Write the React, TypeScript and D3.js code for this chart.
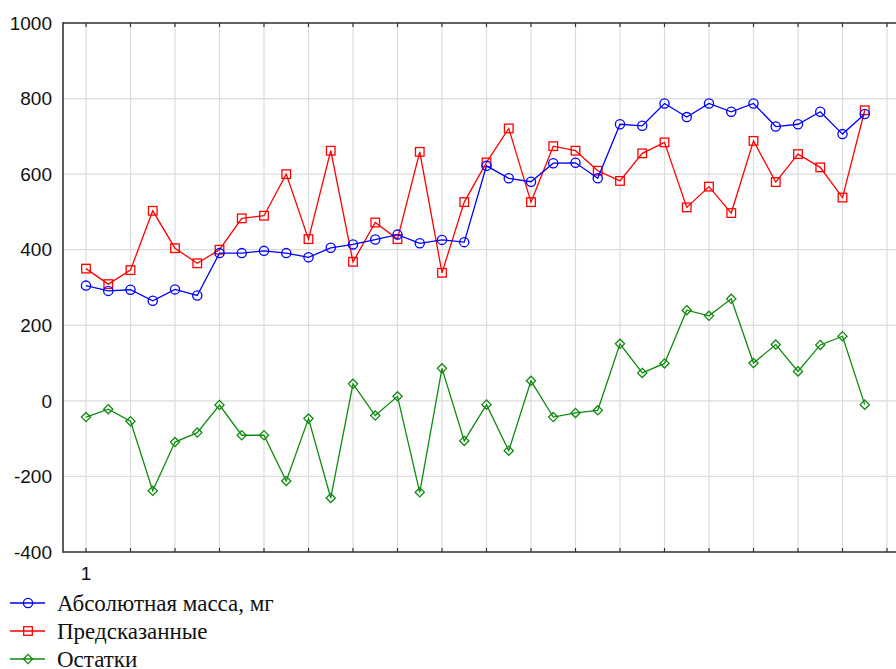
import React from "react";
import * as d3 from "d3";

const cases = d3.range(1, 37);
const absMass = [305, 291, 294, 265, 295, 279, 391, 391, 397, 391, 380, 405, 414, 427, 440, 417, 426, 420, 622, 589, 580, 629, 630, 589, 732, 728, 787, 751, 787, 765, 787, 726, 732, 765, 706, 759];
const predicted = [350, 309, 346, 503, 404, 364, 400, 483, 490, 600, 428, 662, 368, 472, 428, 659, 339, 526, 631, 721, 526, 674, 662, 609, 582, 655, 684, 512, 567, 497, 688, 579, 653, 618, 538, 769];
const residuals = [-43, -22, -54, -238, -109, -84, -11, -91, -91, -212, -47, -257, 45, -39, 12, -242, 86, -106, -10, -132, 53, -43, -32, -25, 151, 74, 99, 240, 225, 270, 100, 149, 78, 148, 171, -10];
const yTicks = [-400, -200, 0, 200, 400, 600, 800, 1000];
const seriesNames = ["Абсолютная масса, мг", "Предсказанные", "Остатки"];

const W = 896, H = 669;
const x = d3.scaleLinear().domain([0, 38]).range([63.75, 63.75 + 38 * 22.25]);
const y = d3.scaleLinear().domain([-400, 1000]).range([552, 23]);

const SANS = "'Liberation Sans', Arial, sans-serif";
const SERIF = "'Liberation Serif', 'DejaVu Serif', 'Times New Roman', serif";

type Shape = "circle" | "square" | "diamond";
const series: { name: string; values: number[]; color: string; shape: Shape }[] = [
  { name: seriesNames[2], values: residuals, color: "#108a10", shape: "diamond" },
  { name: seriesNames[1], values: predicted, color: "#ff0000", shape: "square" },
  { name: seriesNames[0], values: absMass, color: "#0000ff", shape: "circle" },
];

function Marker({ shape, cx, cy, color }: { shape: Shape; cx: number; cy: number; color: string }) {
  if (shape === "circle") return <circle cx={cx} cy={cy} r={4.6} fill="none" stroke={color} strokeWidth={1.3} />;
  if (shape === "square") return <rect x={cx - 4.3} y={cy - 4.3} width={8.6} height={8.6} fill="none" stroke={color} strokeWidth={1.3} />;
  const r = 4.6;
  return <path d={`M${cx},${cy - r}L${cx + r},${cy}L${cx},${cy + r}L${cx - r},${cy}Z`} fill="none" stroke={color} strokeWidth={1.3} />;
}

export default function App() {
  const line = d3.line<number>().x((_, i) => x(cases[i])).y((d) => y(d));
  const gridX = d3.range(1, 39, 2);
  const legendOrder = [series[2], series[1], series[0]];
  return (
    <svg width={W} height={H} style={{ position: "absolute", left: 0, top: 0, background: "#fff" }}>
      <rect width={W} height={H} fill="#fff" />
      {yTicks.map((t) => (
        <line key={"gy" + t} x1={63} x2={W} y1={y(t)} y2={y(t)} stroke="#dcdcdc" strokeWidth={1.2} />
      ))}
      {gridX.map((c) => (
        <line key={"gx" + c} x1={x(c)} x2={x(c)} y1={y(1000)} y2={y(-400)} stroke="#dcdcdc" strokeWidth={1.2} />
      ))}
      <line x1={63} x2={W} y1={y(1000)} y2={y(1000)} stroke="#333" strokeWidth={1.6} />
      <line x1={63} x2={W} y1={y(-400)} y2={y(-400)} stroke="#333" strokeWidth={1.6} />
      <line x1={63} x2={63} y1={y(1000) - 0.8} y2={y(-400) + 0.8} stroke="#333" strokeWidth={1.6} />
      {gridX.map((c) => (
        <g key={"tk" + c}>
          <line x1={x(c)} x2={x(c)} y1={y(1000)} y2={y(1000) + 4} stroke="#333" strokeWidth={1.2} />
          <line x1={x(c)} x2={x(c)} y1={y(-400)} y2={y(-400) - 4} stroke="#333" strokeWidth={1.2} />
        </g>
      ))}
      {yTicks.map((t) => (
        <text key={"yl" + t} x={52} y={y(t)} dy="0.35em" textAnchor="end" fontFamily={SANS} fontSize={19} fill="#111">
          {t}
        </text>
      ))}
      <text x={x(1)} y={580} textAnchor="middle" fontFamily={SANS} fontSize={19} fill="#111">1</text>
      {series.map((s) => (
        <g key={s.name}>
          <path d={line(s.values) || ""} fill="none" stroke={s.color} strokeWidth={1.3} />
          {s.values.map((v, i) => (
            <Marker key={i} shape={s.shape} cx={x(cases[i])} cy={y(v)} color={s.color} />
          ))}
        </g>
      ))}
      {legendOrder.map((s, i) => {
        const ly = 603 + i * 28;
        return (
          <g key={"lg" + s.name}>
            <line x1={10} x2={45} y1={ly} y2={ly} stroke={s.color} strokeWidth={1.3} />
            <Marker shape={s.shape} cx={28} cy={ly} color={s.color} />
            <text x={57} y={ly} dy="0.33em" fontFamily={SERIF} fontSize={23} fill="#111">
              {s.name}
            </text>
          </g>
        );
      })}
    </svg>
  );
}
